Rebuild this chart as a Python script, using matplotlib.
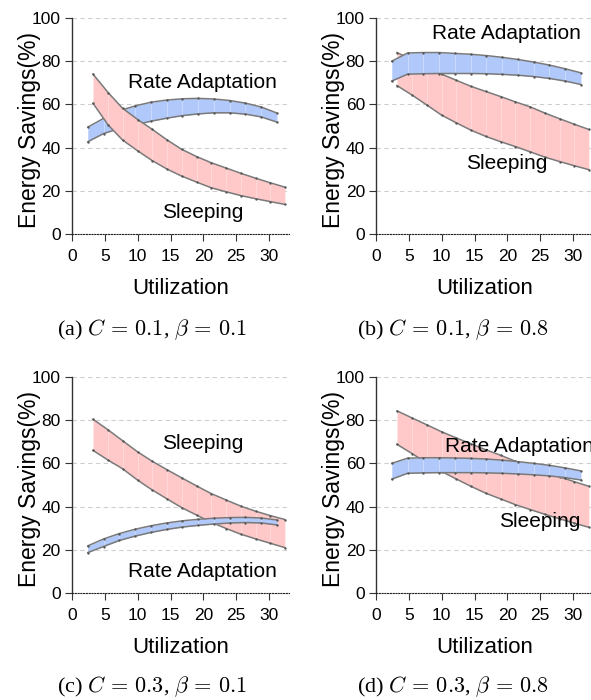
import matplotlib
matplotlib.use('Agg')
import matplotlib.pyplot as plt

plt.rcParams['font.family'] = ['Liberation Sans', 'DejaVu Sans']
plt.rcParams['mathtext.fontset'] = 'cm'

# utilization points for each band
sleep_x = [3.2, 5.5, 7.7, 10.0, 12.2, 14.5, 16.7, 19.0, 21.2, 23.5, 25.7, 28.0, 30.2, 32.4]
rate_x = [2.4, 4.8, 7.2, 9.6, 12.0, 14.4, 16.8, 19.2, 21.6, 24.0, 26.4, 28.8, 31.2]

# (a) C=0.1, beta=0.1
a_sleep_hi = [74, 65.5, 58.2, 53, 48.5, 43.5, 39.2, 35.8, 33, 30.5, 28.1, 25.8, 23.7, 21.7]
a_sleep_lo = [60.5, 50.5, 43.5, 38.5, 34, 30, 26.8, 24, 21.4, 19.5, 17.8, 16.3, 15, 13.7]
a_rate_hi = [49.5, 53.5, 57, 59.3, 61, 62, 62.6, 62.8, 62.5, 61.8, 60.6, 58.8, 56]
a_rate_lo = [42.7, 46.5, 48.8, 50.5, 52.2, 53.6, 54.8, 55.6, 56.1, 56.1, 55.5, 54.2, 51.8]

# (b) C=0.1, beta=0.8
b_sleep_hi = [84, 80.6, 77.3, 74, 71.2, 68.3, 66, 63.6, 61.2, 58.8, 56, 53.3, 50.8, 48.4]
b_sleep_lo = [68.7, 64.3, 59.8, 55, 51.5, 48, 45.2, 42.7, 40.5, 38, 35.6, 33.5, 31.6, 29.8]
b_rate_hi = [80, 83.8, 84, 84, 83.6, 83.2, 82.6, 81.8, 80.8, 79.6, 78.2, 76.5, 74.6]
b_rate_lo = [70.8, 74, 74.2, 74.3, 74.3, 74.3, 74.2, 73.9, 73.5, 72.9, 72, 70.8, 69.2]

# (c) C=0.3, beta=0.1
c_sleep_hi = [80.4, 75.5, 70.5, 65.3, 61, 57, 53.3, 49.5, 46, 43, 40.2, 37.8, 35.8, 34]
c_sleep_lo = [66, 61.5, 57.5, 52.2, 47.7, 43.5, 39.5, 36, 32.7, 29.8, 27.2, 25, 23, 21]
c_rate_hi = [21.8, 25, 27.5, 29.5, 31.1, 32.4, 33.4, 34.1, 34.6, 34.9, 35, 34.7, 33.8]
c_rate_lo = [18.7, 21.5, 24.3, 26.3, 28, 29.4, 30.5, 31.3, 31.9, 32.4, 32.6, 32.4, 31.5]

# (d) C=0.3, beta=0.8
d_sleep_hi = [84.3, 81, 77.9, 74.6, 71.8, 69, 66.3, 63.7, 61, 58.4, 56, 53.7, 51.5, 49.4]
d_sleep_lo = [68.8, 64.5, 60.3, 56.2, 52.8, 49.3, 46.2, 43.5, 40.9, 38.6, 36.4, 34.3, 32.3, 30.4]
d_rate_hi = [60, 62.4, 62.6, 62.6, 62.5, 62.3, 62, 61.5, 60.8, 60, 59.1, 57.9, 56.5]
d_rate_lo = [52.7, 55.4, 55.6, 55.7, 55.7, 55.7, 55.6, 55.4, 55.1, 54.7, 54.2, 53.4, 52.3]

captions = [r'(a) $C\,=\,0.1$, $\beta\,=\,0.1$', r'(b) $C\,=\,0.1$, $\beta\,=\,0.8$',
            r'(c) $C\,=\,0.3$, $\beta\,=\,0.1$', r'(d) $C\,=\,0.3$, $\beta\,=\,0.8$']

PINK = '#ffc9c9'
BLUE = '#b1c9fa'
EDGE = '#7a7a7a'


def band(ax, x, lo, hi, color, z):
    ax.fill_between(x, lo, hi, color=color, lw=0, zorder=z)
    ax.vlines(x[1:-1], [lo[i] for i in range(1, len(x) - 1)], [hi[i] for i in range(1, len(x) - 1)],
              colors='white', lw=0.5, alpha=0.45, zorder=z)
    ax.plot(x, hi, color=EDGE, lw=1.1, zorder=z + 0.5)
    ax.plot(x, lo, color=EDGE, lw=1.1, zorder=z + 0.5)
    ax.plot(x, hi, ls='none', marker='o', ms=0.7, color='#555555', zorder=z + 0.6)
    ax.plot(x, lo, ls='none', marker='o', ms=0.7, color='#555555', zorder=z + 0.6)


fig = plt.figure(figsize=(5.91, 7.0), dpi=100)

panels = [
    (0.1218, 0.6657, a_sleep_lo, a_sleep_hi, a_rate_lo, a_rate_hi, True,
     [('Rate Adaptation', 19.9, 70.2), ('Sleeping', 19.9, 9.8)]),
    (0.6362, 0.6657, b_sleep_lo, b_sleep_hi, b_rate_lo, b_rate_hi, False,
     [('Rate Adaptation', 19.9, 93.0), ('Sleeping', 19.9, 32.6)]),
    (0.1218, 0.1529, c_sleep_lo, c_sleep_hi, c_rate_lo, c_rate_hi, False,
     [('Sleeping', 19.9, 69.3), ('Rate Adaptation', 19.9, 9.9)]),
    (0.6362, 0.1529, d_sleep_lo, d_sleep_hi, d_rate_lo, d_rate_hi, False,
     [('Rate Adaptation', 21.9, 67.7), ('Sleeping', 24.9, 33.0)]),
]

for k, (left, bottom, s_lo, s_hi, r_lo, r_hi, pink_top, notes) in enumerate(panels):
    ax = fig.add_axes([left, bottom, 0.3668, 0.3086])
    ax.set_xlim(0, 33)
    ax.set_ylim(0, 100)
    if pink_top:
        band(ax, rate_x, r_lo, r_hi, BLUE, 2)
        band(ax, sleep_x, s_lo, s_hi, PINK, 3)
    else:
        band(ax, sleep_x, s_lo, s_hi, PINK, 2)
        band(ax, rate_x, r_lo, r_hi, BLUE, 3)

    for yv in [20, 40, 60, 80, 100]:
        ax.axhline(yv, color='#cfcfcf', lw=0.8, ls=(0, (4, 3)), zorder=1)

    for txt, tx, ty in notes:
        ax.text(tx, ty, txt, ha='center', va='center', fontsize=15, zorder=5, clip_on=False)

    ax.set_xticks([0, 5, 10, 15, 20, 25, 30])
    ax.set_yticks([0, 20, 40, 60, 80, 100])
    ax.tick_params(axis='both', labelsize=12.5, direction='out', length=5, width=0.8, color='#333333')
    ax.tick_params(axis='x', pad=6)
    ax.tick_params(axis='y', pad=3)
    ax.spines['top'].set_visible(False)
    ax.spines['right'].set_visible(False)
    ax.spines['left'].set_color('#333333')
    ax.spines['left'].set_linewidth(1.0)
    ax.spines['bottom'].set_linestyle((0, (1, 1.5)))
    ax.spines['bottom'].set_color('#222222')
    ax.set_xlabel('Utilization', fontsize=16)
    ax.set_ylabel('Energy Savings(%)', fontsize=16.5)
    ax.xaxis.set_label_coords(0.5, -0.205)
    ax.yaxis.set_label_coords(-0.145, 0.48)

    cx = 152 / 591 if left < 0.5 else 453 / 591
    cy = (1 - 330 / 700) if bottom > 0.5 else (1 - 687 / 700)
    fig.text(cx, cy, captions[k], ha='center', va='center', fontsize=16,
             family=['Liberation Serif', 'DejaVu Serif'])

fig.savefig('out.png', dpi=100)
